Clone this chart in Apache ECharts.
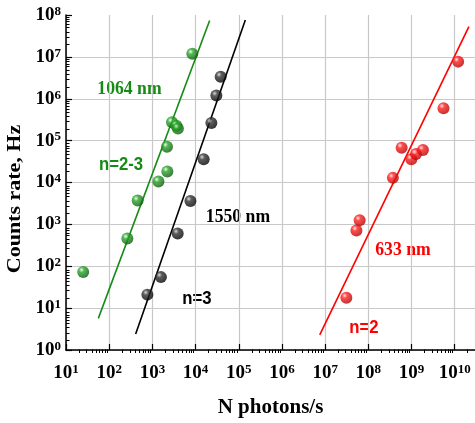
<!DOCTYPE html>
<html>
<head>
<meta charset="utf-8">
<script src="https://cdn.jsdelivr.net/npm/echarts@6/dist/echarts.min.js"></script>
<style>
html, body { margin: 0; padding: 0; background: #fff; }
#chart { width: 475px; height: 423px; }
</style>
</head>
<body>
<div id="chart"></div>
<script>
// measured points: N photons/s (x) vs counts rate, Hz (y)
var green1064X = [25, 263, 457, 1380, 2180, 2220, 2850, 3600, 3900, 8400];
var green1064Y = [73, 461, 3700, 10500, 71000, 18400, 273000, 227000, 196000, 11800000];
var black1550X = [766, 1580, 3850, 7600, 15400, 23200, 30300, 38100];
var black1550Y = [21, 55, 605, 3600, 36000, 263000, 1190000, 3360000];
var red633X = [3.1e7, 5.3e7, 6.3e7, 3.7e8, 5.9e8, 9.9e8, 1.27e9, 1.84e9, 5.5e9, 1.2e10];
var red633Y = [17.7, 713, 1250, 12900, 68000, 36000, 48000, 60000, 596000, 7700000];

// fitted power-law lines (end points)
var greenFitX = [56, 21200];
var greenFitY = [5.7, 7.4e7];
var blackFitX = [410, 142000];
var blackFitY = [2.4, 7.6e7];
var redFitX = [7.5e6, 2.13e10];
var redFitY = [2.3, 5.3e7];

// axis ticks (decades)
var xMajor = [1e1, 1e2, 1e3, 1e4, 1e5, 1e6, 1e7, 1e8, 1e9, 1e10];
var yMajor = [1e0, 1e1, 1e2, 1e3, 1e4, 1e5, 1e6, 1e7, 1e8];
var xMax = 2.95e10;
var yMax = 1e8;

var GREEN = '#168a16';
var RED = '#ff0000';
var SERIF = '"Liberation Serif", "Times New Roman", serif';
var SANS = '"Liberation Sans", Arial, sans-serif';

function pairs(xs, ys) {
    var d = [];
    for (var i = 0; i < xs.length; i++) d.push([xs[i], ys[i]]);
    return d;
}

function minorsOf(majors, max) {
    var m = [];
    majors.forEach(function (v) {
        for (var k = 2; k <= 9; k++) {
            if (k * v <= max) m.push(k * v);
        }
    });
    return m;
}

function ball(light, mid, dark) {
    return new echarts.graphic.RadialGradient(0.36, 0.32, 0.72, [
        {offset: 0, color: light},
        {offset: 0.3, color: mid},
        {offset: 1, color: dark}
    ]);
}

function isDecade(v, majors) {
    for (var i = 0; i < majors.length; i++) {
        if (Math.abs(v / majors[i] - 1) < 1e-6) return true;
    }
    return false;
}

function labelFor(majors) {
    return function (v) {
        if (!isDecade(v, majors)) return '';
        return '{b|10}{s|' + Math.round(Math.log10(v)) + '}';
    };
}

var labelRich = {
    b: {fontFamily: SERIF, fontWeight: 'bold', fontSize: 19, color: '#000', lineHeight: 20},
    s: {fontFamily: SERIF, fontWeight: 'bold', fontSize: 13, color: '#000', verticalAlign: 'top', lineHeight: 12}
};

// same rectangle twice: grid 0 carries data + decades, grid 1 only the minor ticks
var plotRect = {left: 66, right: 0, top: 15, bottom: 70, containLabel: false};

function majorAxis(majors, max, min, isX) {
    return {
        gridIndex: 0,
        type: 'log',
        logBase: 10,
        min: min,
        max: max,
        splitNumber: isX ? 10 : 8,
        position: isX ? 'bottom' : 'left',
        axisLine: {show: true, lineStyle: {color: '#000', width: 1.5}},
        axisTick: {show: true, inside: true, length: 6, lineStyle: {color: '#000', width: 1.2}},
        axisLabel: {show: true, showMaxLabel: !isX, formatter: labelFor(majors), rich: labelRich, margin: isX ? 13 : 5},
        splitLine: {show: true, showMaxLine: isX, lineStyle: {color: '#c8c8c8', width: 1.2}}
    };
}

function minorAxis(majors, max, min, isX) {
    return {
        gridIndex: 1,
        type: 'log',
        logBase: 10,
        min: min,
        max: max,
        position: isX ? 'bottom' : 'left',
        axisLine: {show: false},
        axisTick: {show: true, inside: true, length: 3.5, customValues: minorsOf(majors, max), lineStyle: {color: '#000', width: 1}},
        axisLabel: {show: false},
        splitLine: {show: false}
    };
}

function dots(name, xs, ys, fill) {
    return {
        name: name, type: 'scatter', xAxisIndex: 0, yAxisIndex: 0,
        symbol: 'circle', symbolSize: 12,
        itemStyle: {color: fill},
        data: pairs(xs, ys), z: 3
    };
}

function fit(name, xs, ys, color) {
    return {
        name: name, type: 'line', xAxisIndex: 0, yAxisIndex: 0,
        showSymbol: false, symbol: 'none',
        lineStyle: {color: color, width: 1.6},
        data: pairs(xs, ys), z: 2
    };
}

function note(text, x, y, font, color, sx) {
    return {
        type: 'text', x: x, y: y, scaleX: sx || 1,
        style: {text: text, font: font, fill: color, align: 'center', verticalAlign: 'middle'}
    };
}

var chart = echarts.init(document.getElementById('chart'), null, {renderer: 'canvas'});

chart.setOption({
    animation: false,
    backgroundColor: '#fff',
    grid: [plotRect, plotRect],
    xAxis: [
        Object.assign(majorAxis(xMajor, xMax, 10, true), {
            name: 'N photons/s',
            nameLocation: 'middle',
            nameGap: 47,
            nameTextStyle: {fontFamily: SERIF, fontWeight: 'bold', fontSize: 21, color: '#000'}
        }),
        minorAxis(xMajor, xMax, 10, true)
    ],
    yAxis: [
        majorAxis(yMajor, yMax, 1, false),
        minorAxis(yMajor, yMax, 1, false)
    ],
    series: [
        fit('1064 nm fit', greenFitX, greenFitY, GREEN),
        fit('1550 nm fit', blackFitX, blackFitY, '#000'),
        fit('633 nm fit', redFitX, redFitY, RED),
        dots('1064 nm', green1064X, green1064Y, ball('#e6ffe6', '#2aa52a', '#0b560b')),
        dots('1550 nm', black1550X, black1550Y, ball('#d0d0d0', '#333333', '#000000')),
        dots('633 nm', red633X, red633Y, ball('#ffe0e0', '#ff2020', '#b00000'))
    ],
    graphic: [
        {
            type: 'text', x: 15, y: 199, rotation: Math.PI / 2, scaleY: 0.9,
            style: {text: 'Counts rate, Hz', font: 'bold 22px ' + SERIF, fill: '#000', align: 'center', verticalAlign: 'middle'}
        },
        note('1064 nm', 129.5, 89, 'bold 19px ' + SERIF, GREEN, 0.93),
        note('n=2-3', 121, 165, 'bold 18px ' + SANS, GREEN, 0.93),
        note('1550 nm', 238, 217, 'bold 19px ' + SERIF, '#000', 0.93),
        note('n=3', 197, 299, 'bold 18px ' + SANS, '#000', 0.93),
        note('633 nm', 403, 250, 'bold 19px ' + SERIF, RED, 0.93),
        note('n=2', 364, 328, 'bold 18px ' + SANS, RED, 0.93)
    ]
});
</script>
</body>
</html>
